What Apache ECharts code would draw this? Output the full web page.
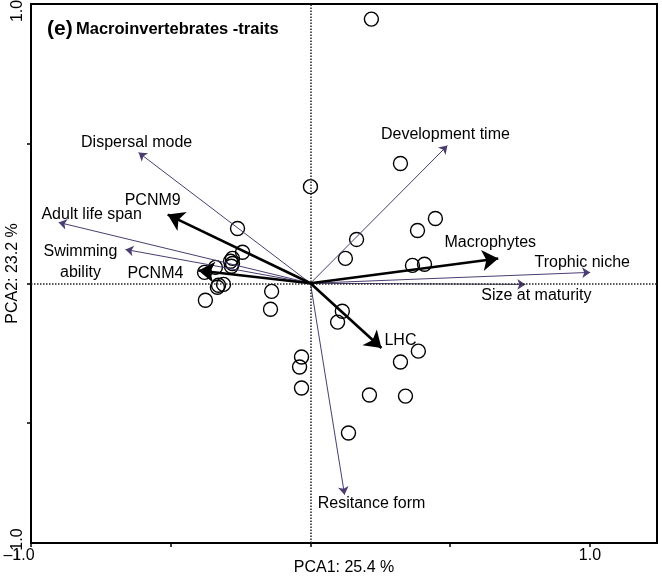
<!DOCTYPE html>
<html>
<head>
<meta charset="utf-8">
<script src="https://cdn.jsdelivr.net/npm/echarts@6/dist/echarts.min.js"></script>
<style>
html,body{margin:0;padding:0;background:#fff;}
#chart{width:662px;height:578px;}
</style>
</head>
<body>
<div id="chart"></div>
<script>
// ---- Data ----
// Trait vectors (thin arrows)
const traitNames = ['Dispersal mode', 'Adult life span', 'Swimming\nability', 'Development time', 'Trophic niche', 'Size at maturity', 'Resitance form'];
const traitX = [-0.615, -0.901, -0.662, 0.490, 1.001, 0.769, 0.122];
const traitY = [0.468, 0.218, 0.121, 0.493, 0.039, -0.004, -0.757];
// Explanatory variables (thick arrows)
const envNames = ['PCNM9', 'PCNM4', 'Macrophytes', 'LHC'];
const envX = [-0.511, -0.401, 0.672, 0.254];
const envY = [0.246, 0.046, 0.089, -0.232];
// Sites
const siteX = [0.218, 0.000, 0.322, 0.447, 0.383, 0.165, 0.125, 0.365, 0.408, -0.261, -0.243, -0.279, -0.286, -0.279, -0.283, -0.340, -0.379, -0.329, -0.333, -0.311, -0.376, -0.139, -0.143, 0.114, 0.097, -0.032, -0.039, -0.032, 0.386, 0.322, 0.211, 0.340, 0.136];
const siteY = [0.946, 0.346, 0.429, 0.232, 0.189, 0.157, 0.089, 0.064, 0.068, 0.196, 0.111, 0.089, 0.079, 0.071, 0.061, 0.057, 0.039, -0.007, -0.014, -0.004, -0.061, -0.029, -0.093, -0.100, -0.139, -0.264, -0.300, -0.375, -0.243, -0.282, -0.400, -0.404, -0.536];
// Axis
const xMin = -1.0, xMax = 1.24, yMin = -0.93, yMax = 1.0;
const xTicks = [-1, -0.5, 0, 0.5, 1];
const yTicks = [-0.5, 0, 0.5];
const xTickLabels = ['\u20131.0', '1.0'];
const yTickLabels = ['1.0', '\u20131.0'];
const xAxisTitle = 'PCA1: 25.4 %';
const yAxisTitle = 'PCA2: 23.2 %';

// ---- Styles (label offsets in px relative to arrow tips) ----
const traitLabelOffset = {
  'Dispersal mode': [-2, -10],
  'Adult life span': [33, -8],
  'Swimming\nability': [-45, 13],
  'Development time': [-2, -11],
  'Trophic niche': [-8, -10],
  'Size at maturity': [11, 11],
  'Resitance form': [27, 9]
};
const envLabelOffset = {
  'PCNM9': [-15, -14],
  'PCNM4': [-43, 3],
  'Macrophytes': [-8, -16],
  'LHC': [19, -7]
};

const FONT = "'Liberation Sans', Arial, sans-serif";
const TXT = '#000';
const PURPLE = '#4b3d70';

const traitLines = traitNames.map((n, i) => ({ coords: [[0, 0], [traitX[i], traitY[i]]] }));
const envLines = envNames.map((n, i) => ({ coords: [[0, 0], [envX[i], envY[i]]] }));

const labelPoints = traitNames.map((n, i) => ({
  name: n, value: [traitX[i], traitY[i]],
  label: { offset: traitLabelOffset[n] }
})).concat(envNames.map((n, i) => ({
  name: n, value: [envX[i], envY[i]],
  label: { offset: envLabelOffset[n] }
})));

const sites = siteX.map((x, i) => [x, siteY[i]]);

const chart = echarts.init(document.getElementById('chart'), null, { renderer: 'canvas' });
chart.setOption({
  animation: false,
  backgroundColor: '#fff',
  grid: { left: 31, right: 5, top: 4, bottom: 35, containLabel: false, outerBoundsMode: 'none',
    show: true, borderColor: '#000', borderWidth: 2, backgroundColor: 'transparent' },
  xAxis: {
    type: 'value', min: xMin, max: xMax,
    name: xAxisTitle, nameLocation: 'middle', nameGap: 17, nameMoveOverlap: false,
    nameTextStyle: { fontFamily: FONT, fontSize: 16, color: TXT, verticalAlign: 'top' },
    axisLine: { show: true, onZero: false, lineStyle: { color: '#000', width: 2 } },
    axisTick: { show: true, customValues: xTicks, length: 4, lineStyle: { color: '#000', width: 1.5 } },
    axisLabel: { show: true, customValues: [xMin, 1], margin: 5, fontFamily: FONT, fontSize: 16, color: TXT,
      formatter: v => (v < 0 ? '{l|' + xTickLabels[0] + '}' : '{n|' + xTickLabels[1] + '}'),
      rich: { l: { fontFamily: FONT, fontSize: 16, color: TXT, padding: [0, 24, 0, 0] },
              n: { fontFamily: FONT, fontSize: 16, color: TXT } } },
    splitLine: { show: false }
  },
  yAxis: {
    type: 'value', min: yMin, max: yMax,
    name: yAxisTitle, nameLocation: 'middle', nameGap: 10, nameRotate: 90, nameMoveOverlap: false,
    nameTextStyle: { fontFamily: FONT, fontSize: 16, color: TXT, verticalAlign: 'bottom' },
    axisLine: { show: true, onZero: false, lineStyle: { color: '#000', width: 2 } },
    axisTick: { show: true, customValues: yTicks, length: 4, lineStyle: { color: '#000', width: 1.5 } },
    axisLabel: { show: true, customValues: [yMax, yMin], rotate: 90, margin: 5, fontFamily: FONT, fontSize: 16, color: TXT,
      formatter: v => (v > 0 ? '{t|' + yTickLabels[0] + '}' : '{b|' + yTickLabels[1] + '}'),
      rich: { t: { fontFamily: FONT, fontSize: 16, color: TXT, padding: [0, 14, 0, 0] },
              b: { fontFamily: FONT, fontSize: 16, color: TXT, padding: [0, 2, 0, 0] } } },
    splitLine: { show: false }
  },
  graphic: [{
    type: 'text', left: 47, top: 19, z: 10,
    style: {
      text: '{a|(e)} {b|Macroinvertebrates -traits}',
      rich: {
        a: { fontFamily: FONT, fontWeight: 'bold', fontSize: 21, fill: '#000' },
        b: { fontFamily: FONT, fontWeight: 'bold', fontSize: 16.5, fill: '#000' }
      }
    }
  }],
  series: [
    {
      type: 'scatter', data: sites, symbol: 'circle', symbolSize: 14, z: 3,
      itemStyle: { color: 'rgba(0,0,0,0)', borderColor: '#000', borderWidth: 1.4, opacity: 1 },
      markLine: {
        silent: true, symbol: 'none', label: { show: false },
        lineStyle: { color: '#222', type: [1.5, 1.5], width: 1.5 },
        data: [{ xAxis: 0 }, { yAxis: 0 }]
      }
    },
    {
      type: 'lines', coordinateSystem: 'cartesian2d', data: traitLines, z: 4,
      symbol: ['none', 'arrow'], symbolSize: 8,
      lineStyle: { color: PURPLE, width: 1, opacity: 1 },
      itemStyle: { color: PURPLE }
    },
    {
      type: 'lines', coordinateSystem: 'cartesian2d', data: envLines, z: 5,
      symbol: ['none', 'arrow'], symbolSize: 16,
      lineStyle: { color: '#000', width: 2.6, opacity: 1 },
      itemStyle: { color: '#000' }
    },
    {
      type: 'scatter', data: labelPoints, symbolSize: 0, z: 6, silent: true,
      itemStyle: { opacity: 1 },
      label: {
        show: true, position: 'inside', formatter: p => p.name, opacity: 1,
        fontFamily: FONT, fontSize: 16, color: TXT, align: 'center', verticalAlign: 'middle', lineHeight: 21
      }
    }
  ]
});
</script>
</body>
</html>
